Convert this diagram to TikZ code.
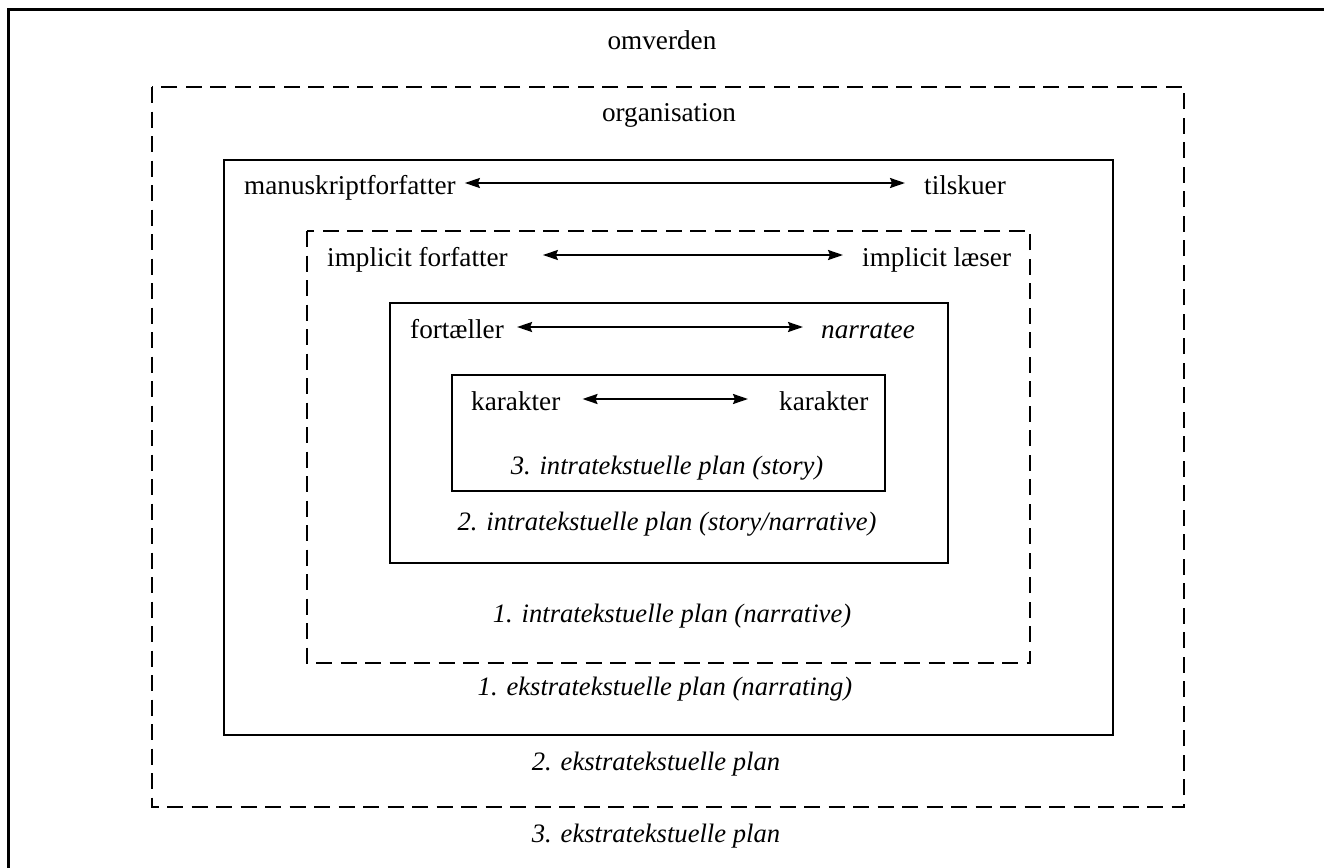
\documentclass[tikz,border=0pt]{standalone}
\usepackage{fontspec}
\setmainfont{Liberation Serif}
\usetikzlibrary{arrows.meta}
\begin{document}
\begin{tikzpicture}[x=1pt,y=-1pt,
  lbl/.style={anchor=base west,inner sep=0pt,font=\fontsize{27.2}{32}\selectfont},
  clbl/.style={anchor=base,inner sep=0pt,font=\fontsize{27.2}{32}\selectfont},
  ilbl/.style={clbl,font=\fontsize{26.6}{32}\selectfont\itshape},
  solidbox/.style={draw,line width=2pt},
  dashbox/.style={draw,line width=2.2pt,dash pattern=on 16pt off 8.5pt},
  link/.style={line width=2pt,{Stealth[length=15pt,width=10pt,inset=2pt]}-{Stealth[length=15pt,width=10pt,inset=2pt]}}
]
\useasboundingbox (0,0) rectangle (1324,867);
\clip (0,0) rectangle (1324,867);
\fill[white] (0,0) rectangle (1324,867);

% nested frames
\draw[line width=3pt] (8,10) rectangle (1340,890);
\draw[dashbox] (152,87) rectangle (1184,807);
\draw[solidbox] (224,160) rectangle (1113,735);
\draw[dashbox] (307,231) rectangle (1030,663);
\draw[solidbox] (390,303) rectangle (948,563);
\draw[solidbox] (452,375) rectangle (885,491);

% level titles
\node[clbl] (omv) at (662,50) {omverden};
\node[clbl] (org) at (669,121) {organisation};
\node[ilbl] (p3i) at (667,474) {3. intratekstuelle plan (story)};
\node[ilbl] (p2i) at (667,530) {2. intratekstuelle plan (story/narrative)};
\node[ilbl] (p1i) at (672,622) {1. intratekstuelle plan (narrative)};
\node[ilbl] (p1e) at (665,695) {1. ekstratekstuelle plan (narrating)};
\node[ilbl] (p2e) at (656,770) {2. ekstratekstuelle plan};
\node[ilbl] (p3e) at (656,842) {3. ekstratekstuelle plan};

% communicating parties
\node[lbl] (mf) at (244,194) {manuskriptforfatter};
\node[lbl] (ts) at (924,194) {tilskuer};
\node[lbl] (if) at (327,266) {implicit forfatter};
\node[lbl] (il) at (862,266) {implicit læser};
\node[lbl] (ft) at (410,338) {fortæller};
\node[lbl,font=\fontsize{27.2}{32}\selectfont\itshape] (nt) at (821,338) {narratee};
\node[lbl] (k1) at (471,410) {karakter};
\node[lbl] (k2) at (779,410) {karakter};

\draw[link] ([shift={(9,-11)}]mf.base east) -- ([shift={(-19,-11)}]ts.base west);
\draw[link] ([shift={(35,-11)}]if.base east) -- ([shift={(-19,-11)}]il.base west);
\draw[link] ([shift={(13,-11)}]ft.base east) -- ([shift={(-18,-11)}]nt.base west);
\draw[link] ([shift={(22,-11)}]k1.base east) -- ([shift={(-31,-11)}]k2.base west);
\end{tikzpicture}
\end{document}
